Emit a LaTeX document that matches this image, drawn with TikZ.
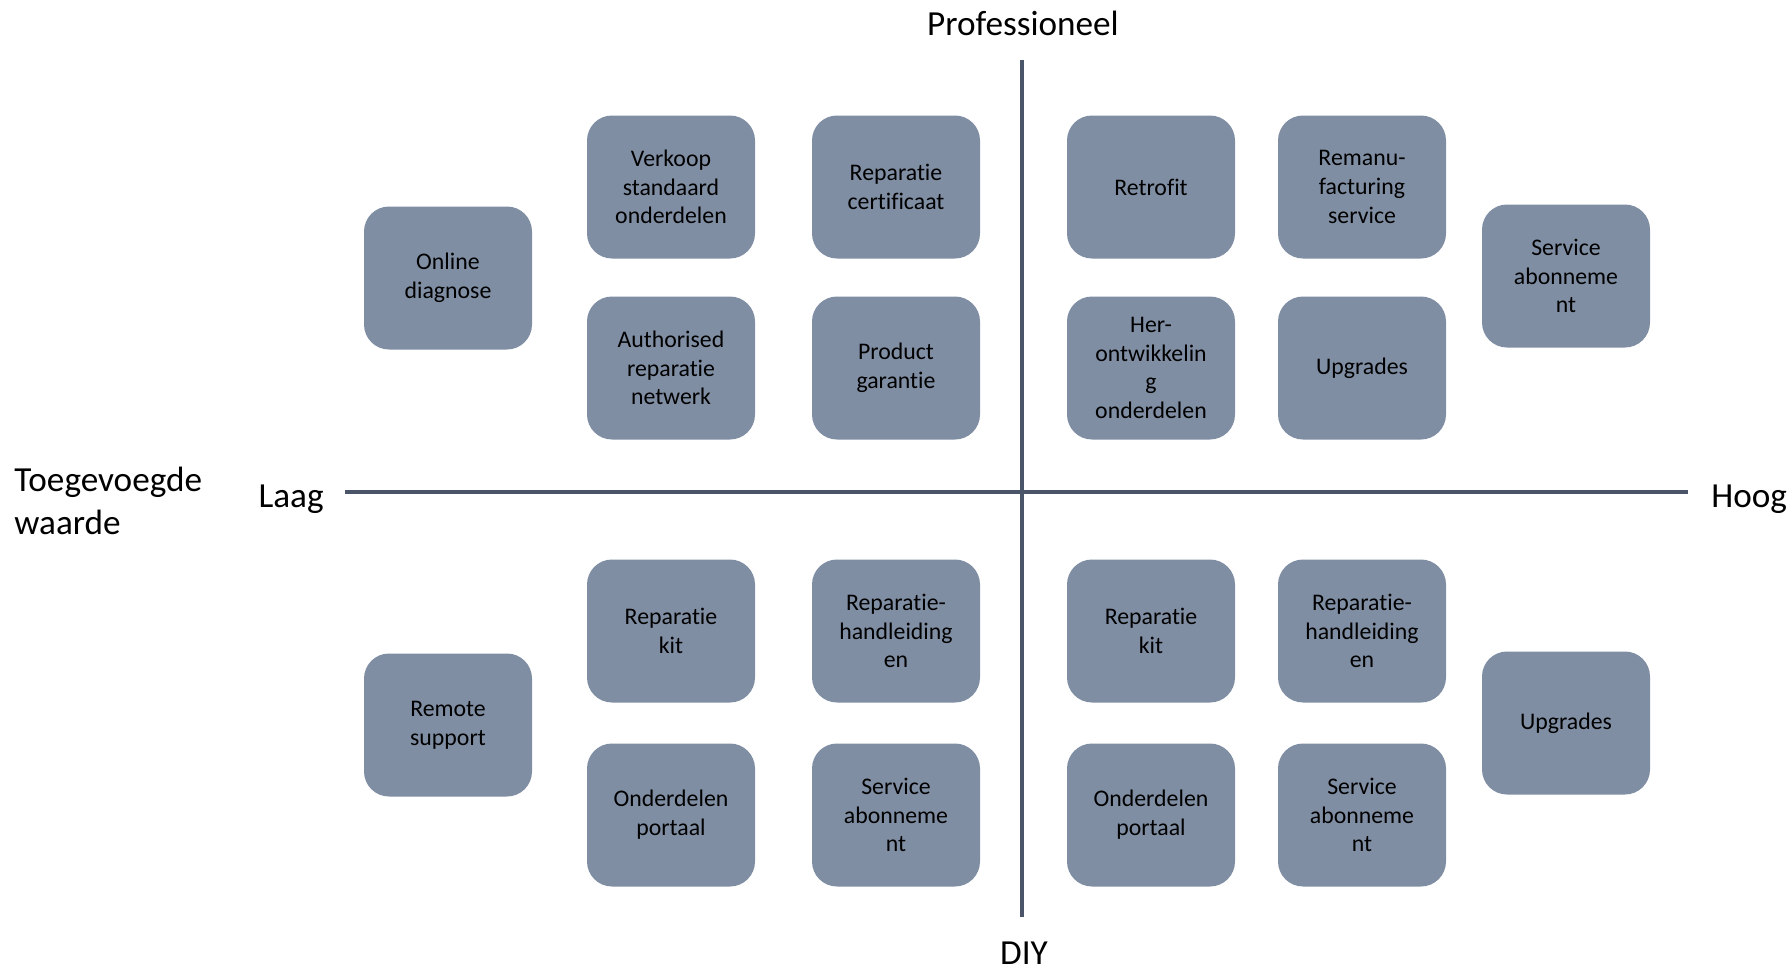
\documentclass[tikz,border=0pt]{standalone}
\usepackage{fontspec}
\setmainfont{Carlito}[Ligatures=NoCommon]
\usepackage{tikz}
\usetikzlibrary{positioning}

\definecolor{tilefill}{RGB}{128,142,164}
\definecolor{axisline}{RGB}{74,85,106}

\tikzset{
    tile/.style={fill=tilefill, rounded corners=12.5pt, minimum width=84pt, minimum height=71.5pt,
        inner sep=2pt, align=center, font=\fontsize{11.9}{14.4}\selectfont},
    axislabel/.style={inner sep=0pt, font=\fontsize{17.6}{21.5}\selectfont},
    axisrule/.style={draw=axisline, line width=2pt}
}

\begin{document}
\begin{tikzpicture}[x=0.5pt, y=-0.5pt]
        \useasboundingbox (0,0) rectangle (1790,970);
        \coordinate (W) at (345,492);
        \coordinate (E) at (1688,492);
        \coordinate (N) at (1022,60);
        \coordinate (S) at (1022,917);
        \draw[axisrule] (W) -- (E);
        \draw[axisrule] (N) -- (S);
        \node[axislabel, anchor=base] (prof) at (1023,35) {Professioneel};
        \node[axislabel, anchor=base] (diy) at (1024,964) {DIY};
        \node[axislabel, anchor=base east] (laag) at (324,507) {Laag};
        \node[axislabel, anchor=base west] (hoog) at (1711,507) {Hoog};
        \node[axislabel, anchor=west, align=left] (waarde) at (14,501) {Toegevoegde\\waarde};
        % professioneel
        \node[tile] (onlinediag) at (448,278) {Online\\diagnose};
        \node[tile] (verkoop) at (671,187) {Verkoop\\standaard\\onderdelen};
        \node[tile] (authnet) at (671,368) {Authorised\\reparatie\\netwerk};
        \node[tile] (repcert) at (896,187) {Reparatie\\certificaat};
        \node[tile] (prodgar) at (896,368) {Product\\garantie};
        \node[tile] (retrofit) at (1151,187) {Retrofit};
        \node[tile] (herontw) at (1151,368) {Her-\\ontwikkelin\\g\\onderdelen};
        \node[tile] (reman) at (1362,187) {Remanu-\\facturing\\service};
        \node[tile] (upgradesp) at (1362,368) {Upgrades};
        \node[tile] (serviceabp) at (1566,276) {Service\\abonneme\\nt};
        % DIY
        \node[tile] (remote) at (448,725) {Remote\\support};
        \node[tile] (kitl) at (671,631) {Reparatie\\kit};
        \node[tile] (portaall) at (671,815) {Onderdelen\\portaal};
        \node[tile] (handl) at (896,631) {Reparatie-\\handleiding\\en};
        \node[tile] (serviceabl) at (896,815) {Service\\abonneme\\nt};
        \node[tile] (kith) at (1151,631) {Reparatie\\kit};
        \node[tile] (portaalh) at (1151,815) {Onderdelen\\portaal};
        \node[tile] (handh) at (1362,631) {Reparatie-\\handleiding\\en};
        \node[tile] (serviceabh) at (1362,815) {Service\\abonneme\\nt};
        \node[tile] (upgradesd) at (1566,723) {Upgrades};
    \end{tikzpicture}
\end{document}
